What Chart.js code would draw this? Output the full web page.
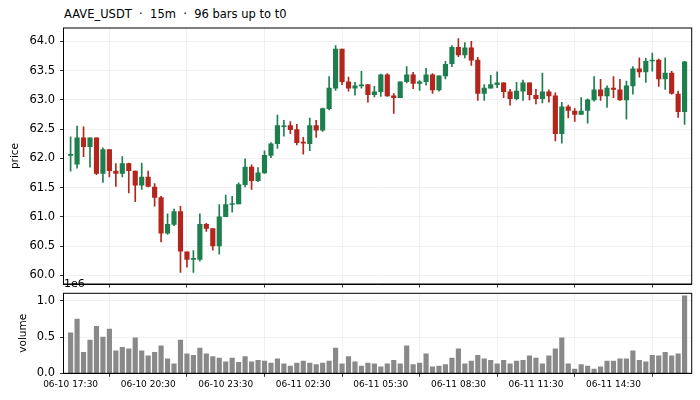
<!DOCTYPE html>
<html>
<head>
<meta charset="utf-8">
<script src="https://cdn.jsdelivr.net/npm/chart.js@4/dist/chart.umd.min.js"></script>
<style>
  body { margin: 0; background: #fff; }
  #wrap { position: relative; width: 700px; height: 400px; overflow: hidden; font-family: "DejaVu Sans", sans-serif; }
  #title { position: absolute; left: 64px; top: 7px; font-size: 11.5px; color: #000; white-space: pre; }
  canvas { position: absolute; left: 0; }
  #priceChart { top: 0; }
  #volChart { top: 270px; }
</style>
</head>
<body>
<div id="wrap">
  <div id="title">AAVE_USDT  ·  15m  ·  96 bars up to t0</div>
  <canvas id="priceChart" width="700" height="290"></canvas>
  <canvas id="volChart" width="700" height="130"></canvas>
</div>
<script>
const opens = [62.05, 61.90, 62.35, 62.20, 62.35, 61.74, 62.15, 61.78, 61.74, 61.91, 61.78, 61.54, 61.68, 61.51, 61.33, 60.72,
  60.87, 61.09, 60.40, 60.27, 60.27, 60.87, 60.80, 60.50, 61.00, 61.21, 61.22, 61.55, 61.85, 61.62, 61.75, 62.05,
  62.25, 62.54, 62.56, 62.49, 62.27, 62.25, 62.56, 62.48, 62.85, 63.20, 63.87, 63.31, 63.20, 63.24, 63.26, 63.09,
  63.14, 63.43, 63.07, 63.04, 63.31, 63.43, 63.28, 63.31, 63.43, 63.17, 63.41, 63.62, 63.90, 63.77, 63.89, 63.68,
  63.11, 63.20, 63.26, 63.29, 63.14, 63.02, 63.15, 63.29, 63.08, 63.02, 63.14, 63.07, 62.42, 62.88, 62.81, 62.75,
  62.82, 63.00, 63.17, 63.07, 63.20, 63.17, 63.00, 63.24, 63.53, 63.48, 63.665, 63.68, 63.36, 63.46, 63.10, 62.80];
const highs = [62.37, 62.55, 62.54, 62.35, 62.35, 62.18, 62.15, 61.91, 62.03, 61.92, 61.78, 61.92, 61.78, 61.57, 61.35, 61.05,
  61.13, 61.18, 60.40, 60.42, 61.05, 60.89, 60.80, 61.21, 61.37, 61.35, 61.58, 61.99, 61.89, 61.84, 62.13, 62.27,
  62.74, 62.65, 62.63, 62.58, 62.36, 62.69, 62.65, 62.86, 63.40, 63.93, 63.87, 63.39, 63.30, 63.49, 63.26, 63.23,
  63.44, 63.45, 63.11, 63.31, 63.57, 63.47, 63.33, 63.54, 63.45, 63.41, 63.66, 63.93, 64.05, 63.98, 64.00, 63.73,
  63.26, 63.42, 63.48, 63.29, 63.18, 63.30, 63.34, 63.29, 63.18, 63.46, 63.17, 63.12, 62.96, 62.91, 62.85, 63.04,
  63.02, 63.40, 63.35, 63.24, 63.40, 63.35, 63.32, 63.57, 63.72, 63.71, 63.80, 63.70, 63.72, 63.49, 63.15, 63.66];
const lows = [61.78, 61.83, 62.03, 61.85, 61.72, 61.59, 61.68, 61.52, 61.68, 61.41, 61.26, 61.47, 61.51, 61.18, 60.57, 60.70,
  60.85, 60.05, 60.14, 60.05, 60.24, 60.75, 60.43, 60.36, 61.00, 61.08, 61.22, 61.51, 61.47, 61.60, 61.74, 62.01,
  62.17, 62.38, 62.42, 62.23, 62.07, 62.13, 62.36, 62.46, 62.83, 63.16, 63.26, 63.15, 63.08, 63.20, 62.96, 63.05,
  63.06, 63.06, 62.77, 63.04, 63.29, 63.19, 63.16, 63.25, 63.11, 63.15, 63.36, 63.57, 63.74, 63.72, 63.59, 62.99,
  62.99, 63.20, 63.21, 63.04, 62.91, 63.00, 62.99, 63.00, 62.93, 62.95, 62.96, 62.30, 62.26, 62.69, 62.63, 62.75,
  62.60, 62.98, 62.99, 62.87, 63.04, 62.99, 62.67, 63.10, 63.39, 63.30, 63.49, 63.23, 63.18, 63.10, 62.70, 62.58];
const closes = [62.06, 62.35, 62.20, 62.35, 61.74, 62.15, 61.79, 61.74, 61.91, 61.79, 61.54, 61.68, 61.52, 61.33, 60.72, 60.87,
  61.09, 60.41, 60.27, 60.28, 60.87, 60.80, 60.50, 61.00, 61.21, 61.22, 61.55, 61.85, 61.62, 61.75, 62.05, 62.25,
  62.56, 62.555, 62.49, 62.27, 62.26, 62.56, 62.48, 62.85, 63.20, 63.87, 63.31, 63.20, 63.24, 63.25, 63.09, 63.14,
  63.43, 63.07, 63.04, 63.31, 63.43, 63.28, 63.31, 63.43, 63.17, 63.41, 63.61, 63.90, 63.77, 63.89, 63.68, 63.11,
  63.20, 63.26, 63.29, 63.14, 63.02, 63.15, 63.29, 63.09, 63.02, 63.14, 63.07, 62.42, 62.88, 62.82, 62.75, 62.81,
  63.00, 63.17, 63.07, 63.20, 63.18, 63.00, 63.24, 63.53, 63.48, 63.66, 63.675, 63.36, 63.46, 63.11, 62.80, 63.65];
// volume in units of 1e6
const volumes = [0.56, 0.75, 0.29, 0.46, 0.65, 0.50, 0.61, 0.31, 0.36, 0.34, 0.49, 0.31, 0.24, 0.29, 0.38, 0.20,
  0.13, 0.46, 0.27, 0.25, 0.35, 0.27, 0.23, 0.21, 0.16, 0.21, 0.15, 0.23, 0.16, 0.18, 0.17, 0.14,
  0.20, 0.13, 0.10, 0.14, 0.17, 0.14, 0.12, 0.14, 0.17, 0.35, 0.13, 0.23, 0.16, 0.10, 0.14, 0.13,
  0.09, 0.13, 0.18, 0.13, 0.38, 0.12, 0.14, 0.27, 0.09, 0.10, 0.12, 0.21, 0.34, 0.13, 0.17, 0.25,
  0.20, 0.18, 0.13, 0.18, 0.13, 0.17, 0.18, 0.24, 0.21, 0.13, 0.24, 0.34, 0.49, 0.13, 0.06, 0.12,
  0.10, 0.06, 0.09, 0.17, 0.17, 0.20, 0.20, 0.31, 0.18, 0.16, 0.25, 0.24, 0.29, 0.24, 0.27, 1.07];
const tickPos = [0, 12, 24, 36, 48, 60, 72, 84];
const tickLabels = ['06-10 17:30', '06-10 20:30', '06-10 23:30', '06-11 02:30', '06-11 05:30', '06-11 08:30', '06-11 11:30', '06-11 14:30'];
const priceTicks = [60.0, 60.5, 61.0, 61.5, 62.0, 62.5, 63.0, 63.5, 64.0];
const volTicks = [0.0, 0.5, 1.0];

document.addEventListener('DOMContentLoaded', function () {
    const UP = '#1e7f4e', DOWN = '#b2261e', GRID = 'rgba(0,0,0,0.07)';
    const FONT = 'DejaVu Sans';
    const X_MIN = -1.1, X_MAX = 96.1;

    const colors = opens.map((o, i) => closes[i] >= o ? UP : DOWN);

    // full black box round the plot area, like matplotlib spines
    const frame = {
        id: 'frame',
        afterDraw(chart) {
            const { ctx, chartArea: a } = chart;
            ctx.save();
            ctx.strokeStyle = '#000';
            ctx.lineWidth = 1;
            ctx.strokeRect(a.left, a.top, a.right - a.left, a.bottom - a.top);
            ctx.restore();
        }
    };

    const xAxis = (showLabels, height) => ({
        type: 'linear', min: X_MIN, max: X_MAX, offset: false,
        afterBuildTicks: s => { s.ticks = tickPos.map(v => ({ value: v })); },
        afterFit: s => { s.height = height; },
        grid: { color: GRID, tickColor: '#000', tickLength: 3.5, lineWidth: 0.8 },
        border: { display: true, color: '#000' },
        ticks: {
            display: showLabels, maxRotation: 0, autoSkip: false, padding: 2, color: '#000',
            font: { family: FONT, size: 9 },
            callback: v => tickLabels[tickPos.indexOf(v)] || ''
        }
    });

    const yAxis = (min, max, ticks, label, titlePad) => ({
        min, max,
        afterBuildTicks: s => { s.ticks = ticks.map(v => ({ value: v })); },
        // fixed width, and no extra room asked for the end labels
        afterFit: s => { s.width = 63.5; s.paddingTop = 0; s.paddingBottom = 0; },
        grid: { color: GRID, tickColor: '#000', tickLength: 3.5, lineWidth: 0.8 },
        border: { display: true, color: '#000' },
        ticks: { color: '#000', padding: 5, font: { family: FONT, size: 11.5 }, callback: v => v.toFixed(1) },
        title: { display: true, text: label, color: '#000', font: { family: FONT, size: 10.5 }, padding: { top: titlePad, bottom: 0 } }
    });

    const common = {
        responsive: false, animation: false, devicePixelRatio: 1,
        plugins: { legend: { display: false }, tooltip: { enabled: false } }
    };

    new Chart(document.getElementById('priceChart'), {
        type: 'bar',
        data: {
            datasets: [
                {
                    label: 'wick', order: 2, grouped: false, barThickness: 1,
                    data: lows.map((l, i) => ({ x: i, y: [l, highs[i]] })),
                    backgroundColor: colors
                },
                {
                    label: 'body', order: 1, grouped: false, barThickness: 4.5, minBarLength: 1,
                    data: opens.map((o, i) => ({ x: i, y: [o, closes[i]] })),
                    backgroundColor: colors
                }
            ]
        },
        options: {
            ...common,
            layout: { padding: { top: 28, right: 8.3, left: 0, bottom: 0 } },
            scales: {
                x: xAxis(false, 6),
                y: yAxis(59.85, 64.23, priceTicks, 'price', 9.4)
            }
        },
        plugins: [frame]
    });

    // the "1e6" offset text above the volume axis
    const offsetText = {
        id: 'offsetText',
        afterDraw(chart) {
            const { ctx } = chart;
            ctx.save();
            ctx.fillStyle = '#000';
            ctx.font = '11px "DejaVu Sans"';
            ctx.textBaseline = 'middle';
            ctx.fillText('1e6', 64, 14);
            ctx.restore();
        }
    };

    new Chart(document.getElementById('volChart'), {
        type: 'bar',
        data: {
            datasets: [{
                label: 'volume', barThickness: 4.5,
                data: volumes.map((v, i) => ({ x: i, y: v })),
                backgroundColor: '#898989'
            }]
        },
        options: {
            ...common,
            layout: { padding: { top: 23.3, right: 8.3, left: 0, bottom: 0 } },
            scales: {
                x: xAxis(true, 26.7),
                y: yAxis(0, 1.106, volTicks, 'volume', 17)
            }
        },
        plugins: [frame, offsetText]
    });
});
</script>
</body>
</html>
